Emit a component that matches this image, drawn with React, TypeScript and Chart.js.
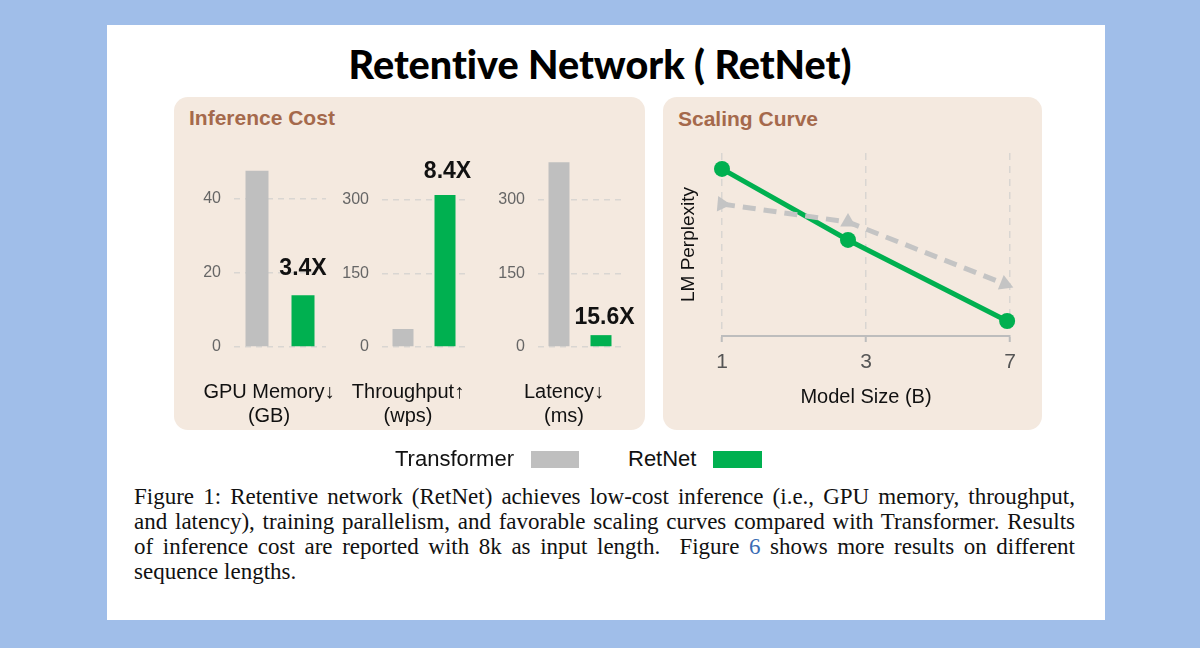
import React, { useEffect, useRef } from "react";
import { Chart, registerables } from "chart.js";
Chart.register(...registerables);

// ---------- data ----------
const metricLabels = [["GPU Memory↓", "(GB)"], ["Throughput↑", "(wps)"], ["Latency↓", "(ms)"]];
const transformerCost = [47.6, 36.7, 377];
const retnetCost = [14.0, 310, 24.2];
const speedups = ["3.4X", "8.4X", "15.6X"];
const costTicks = [[0, 20, 40], [0, 150, 300], [0, 150, 300]];
const costAxisMax = [53.2, 402, 402];

const sizeTickValues = [0, 1, 2];
const sizeTickLabels = ["1", "3", "7"];
const transformerSizePos = [0, 0.875, 1.965];
const transformerPerplexity = [72.1, 62.3, 28.4];
const retnetSizePos = [0, 0.875, 1.98];
const retnetPerplexity = [91.3, 52.5, 8.2];

const captionLines = [
  "Figure 1: Retentive network (RetNet) achieves low-cost inference (i.e., GPU memory, throughput,",
  "and latency), training parallelism, and favorable scaling curves compared with Transformer. Results",
];

// ---------- style ----------
const SANS = "'Liberation Sans', Arial, Helvetica, sans-serif";
const GRAY = "#bfbfbf";
const GREEN = "#00b050";
const BEIGE = "#f4e9df";
const BROWN = "#a5694c";

const barGeom = [
  { left: 234, width: 92, labelOffset: -11, dx: 0, dy: 20 },
  { left: 382, width: 84, labelOffset: -16, dx: 2.5, dy: 17 },
  { left: 538, width: 84, labelOffset: -16, dx: 3.5, dy: 11 },
];
const Y_W = 50;
const PAD_R = 40;
const PAD_T = 10;
const AREA_TOP = 150;
const X_H = 80;
const BAR_CANVAS_H = 287;

function BarPanel({ i }: { i: number }) {
  const ref = useRef<HTMLCanvasElement>(null);
  const g = barGeom[i];
  const cw = Y_W + g.width + PAD_R;
  useEffect(() => {
    const chart = new Chart(ref.current!, {
      type: "bar",
      data: {
        labels: [metricLabels[i]],
        datasets: [
          { label: "Transformer", data: [transformerCost[i]], backgroundColor: GRAY },
          { label: "RetNet", data: [retnetCost[i]], backgroundColor: GREEN },
        ],
      },
      options: {
        responsive: false,
        animation: false,
        events: [],
        layout: { padding: { left: 0, right: PAD_R, top: PAD_T, bottom: 0 } },
        datasets: { bar: { categoryPercentage: 1, barPercentage: 0.5 } },
        plugins: { legend: { display: false }, tooltip: { enabled: false } },
        scales: {
          x: {
            offset: true,
            grid: { display: false },
            border: { display: false },
            ticks: {
              color: "#111",
              font: { family: SANS, size: 20, lineHeight: 1.2 },
              padding: 25,
              labelOffset: g.labelOffset,
              maxRotation: 0,
              autoSkip: false,
            },
            afterFit: (s: any) => {
              s.height = X_H;
              s.paddingLeft = 0;
              s.paddingRight = 0;
            },
          },
          y: {
            min: 0,
            max: costAxisMax[i],
            grid: { color: "#d9d6d2", lineWidth: 1.5, drawTicks: false },
            border: { display: false, dash: [6, 5] },
            ticks: { color: "#666", font: { family: SANS, size: 16 }, padding: 13 },
            afterBuildTicks: (s: any) => {
              s.ticks = costTicks[i].map((v) => ({ value: v }));
            },
            afterFit: (s: any) => {
              s.width = Y_W;
              s.paddingTop = 0;
              s.paddingBottom = 0;
            },
          },
        },
      },
      plugins: [
        {
          id: "speedup",
          afterDatasetsDraw(c: any) {
            const bar = c.getDatasetMeta(1).data[0];
            const ctx = c.ctx;
            ctx.save();
            ctx.font = `bold 23px ${SANS}`;
            ctx.fillStyle = "#111";
            ctx.textAlign = "center";
            ctx.textBaseline = "alphabetic";
            ctx.fillText(speedups[i], bar.x + g.dx, bar.y - g.dy);
            ctx.restore();
          },
        },
      ],
    } as any);
    return () => chart.destroy();
  }, [i]);
  return (
    <canvas
      ref={ref}
      width={cw}
      height={BAR_CANVAS_H}
      style={{ position: "absolute", left: g.left - Y_W, top: AREA_TOP - PAD_T, width: cw, height: BAR_CANVAS_H }}
    />
  );
}

function ScalingPanel() {
  const ref = useRef<HTMLCanvasElement>(null);
  const left = 670, top = 140, w = 365, h = 285;
  useEffect(() => {
    const chart = new Chart(ref.current!, {
      type: "line",
      data: {
        datasets: [
          {
            label: "Transformer",
            data: transformerSizePos.map((x, k) => ({ x, y: transformerPerplexity[k] })),
            borderColor: "#c4c4c4",
            backgroundColor: "#c4c4c4",
            borderWidth: 5,
            borderDash: [13, 8],
            pointStyle: "triangle",
            pointRadius: 9,
            pointBorderWidth: 0,
            pointRotation: [-25, 0, 112],
            clip: false,
          },
          {
            label: "RetNet",
            data: retnetSizePos.map((x, k) => ({ x, y: retnetPerplexity[k] })),
            borderColor: GREEN,
            backgroundColor: GREEN,
            borderWidth: 5,
            pointRadius: 8,
            pointBorderWidth: 0,
            clip: false,
          },
        ],
      },
      options: {
        responsive: false,
        animation: false,
        events: [],
        layout: { padding: { left: 0, right: 25, top: 13, bottom: 0 } },
        plugins: { legend: { display: false }, tooltip: { enabled: false } },
        scales: {
          x: {
            type: "linear",
            min: 0,
            max: 2,
            afterBuildTicks: (s: any) => {
              s.ticks = sizeTickValues.map((v) => ({ value: v }));
            },
            ticks: {
              callback: (_v: any, idx: number) => sizeTickLabels[idx],
              color: "#555",
              font: { family: SANS, size: 21, lineHeight: 1.2 },
              padding: 8,
              maxRotation: 0,
            },
            grid: {
              color: "#d9d6d2",
              lineWidth: 1.5,
              drawTicks: true,
              tickLength: 6,
              tickColor: "#bdbdbd",
              tickWidth: 2,
              tickBorderDash: [],
            },
            border: { display: true, color: "#bdbdbd", width: 2, dash: [7, 6] },
            title: {
              display: true,
              text: "Model Size (B)",
              color: "#111",
              font: { family: SANS, size: 20, lineHeight: 1.2 },
              padding: { top: 0, bottom: 16 },
            },
            afterFit: (s: any) => {
              s.height = 89;
              s.paddingLeft = 0;
              s.paddingRight = 0;
            },
          },
          y: {
            min: 0,
            max: 100,
            ticks: { display: false },
            grid: { display: false },
            border: { display: false },
            title: {
              display: true,
              text: "LM Perplexity",
              color: "#111",
              font: { family: SANS, size: 19, lineHeight: 1.2 },
              padding: { top: 7, bottom: 0 },
            },
            afterFit: (s: any) => {
              s.width = 52;
              s.paddingTop = 0;
              s.paddingBottom = 0;
            },
          },
        },
      },
    } as any);
    return () => chart.destroy();
  }, []);
  return (
    <canvas ref={ref} width={w} height={h} style={{ position: "absolute", left, top, width: w, height: h }} />
  );
}

export default function App() {
  const abs = (s: React.CSSProperties): React.CSSProperties => ({ position: "absolute", ...s });
  const captionStyle: React.CSSProperties = {
    fontFamily: "'Liberation Serif', 'Times New Roman', serif",
    fontSize: 23,
    lineHeight: "25px",
    color: "#111",
    width: 941,
  };
  return (
    <div style={{ position: "fixed", left: 0, top: 0, width: 1200, height: 648, background: "#a0bee9", overflow: "hidden" }}>
      <div style={abs({ left: 107, top: 25, width: 998, height: 595, background: "#ffffff" })} />
      <div
        style={abs({
          left: 0,
          top: 41,
          width: 1200,
          textAlign: "center",
          fontFamily: "Lato, 'Open Sans', sans-serif",
          fontWeight: 900,
          fontSize: 39.5,
          lineHeight: "46px",
          color: "#000",
          fontVariantLigatures: "none",
        })}
      >
        Retentive Network ( RetNet)
      </div>
      <div style={abs({ left: 174, top: 97, width: 471, height: 333, background: BEIGE, borderRadius: 14 })} />
      <div style={abs({ left: 663, top: 97, width: 379, height: 333, background: BEIGE, borderRadius: 14 })} />
      <div style={abs({ left: 189, top: 106, fontFamily: SANS, fontWeight: 700, fontSize: 21, lineHeight: "24px", color: BROWN })}>
        Inference Cost
      </div>
      <div style={abs({ left: 678, top: 107, fontFamily: SANS, fontWeight: 700, fontSize: 21, lineHeight: "24px", color: BROWN })}>
        Scaling Curve
      </div>
      <BarPanel i={0} />
      <BarPanel i={1} />
      <BarPanel i={2} />
      <ScalingPanel />
      {/* legend */}
      <div style={abs({ left: 395, top: 446, fontFamily: SANS, fontSize: 22, lineHeight: "26px", color: "#111" })}>Transformer</div>
      <div style={abs({ left: 531, top: 451, width: 48, height: 17, background: GRAY })} />
      <div style={abs({ left: 628, top: 446, fontFamily: SANS, fontSize: 22, lineHeight: "26px", color: "#111" })}>RetNet</div>
      <div style={abs({ left: 713, top: 451, width: 49, height: 17, background: GREEN })} />
      {/* caption */}
      <div style={abs({ left: 134, top: 484 })}>
        {captionLines.map((t, k) => (
          <div key={k} style={{ ...captionStyle, height: 25, textAlign: "justify", textAlignLast: "justify" } as any}>
            {t}
          </div>
        ))}
        <div style={{ ...captionStyle, height: 25, textAlign: "justify", textAlignLast: "justify" } as any}>
          of inference cost are reported with 8k as input length.{"\u00a0 "}Figure{" "}
          <span style={{ color: "#3b6cb4" }}>6</span> shows more results on different
        </div>
        <div style={{ ...captionStyle, height: 25 }}>sequence lengths.</div>
      </div>
    </div>
  );
}
